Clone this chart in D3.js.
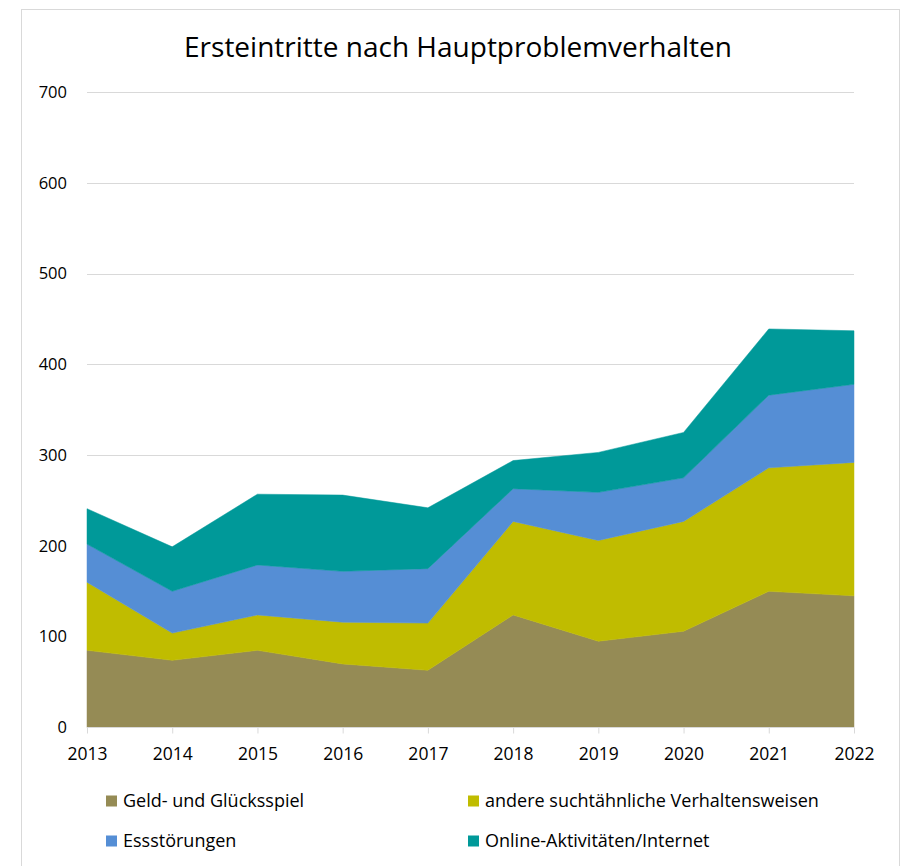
<!DOCTYPE html>
<html>
<head>
<meta charset="utf-8">
<script src="https://cdn.jsdelivr.net/npm/d3@7"></script>
<style>
  body { margin: 0; background: #fff; }
  text { font-family: "Open Sans", "Liberation Sans", sans-serif; fill: #000; }
</style>
</head>
<body>
<svg id="chart" width="905" height="866"></svg>
<script>
const years = [2013, 2014, 2015, 2016, 2017, 2018, 2019, 2020, 2021, 2022];
const seriesNames = ['Geld- und Glücksspiel', 'andere suchtähnliche Verhaltensweisen', 'Essstörungen', 'Online-Aktivitäten/Internet'];
const geld = [85, 74, 85, 70, 63, 124, 95, 106, 150, 145];
const andere = [75, 30, 39, 46, 52, 103, 111, 121, 136, 147];
const ess = [42, 46, 55, 56, 60, 36, 53, 48, 80, 86];
const online = [39, 49, 78, 84, 67, 31, 44, 50, 73, 59];
const yTicks = [0, 100, 200, 300, 400, 500, 600, 700];
const colours = ['#958B55', '#C0BC00', '#558ED5', '#009999'];

const keys = ['geld', 'andere', 'ess', 'online'];
const table = years.map((y, i) => ({ year: y, geld: geld[i], andere: andere[i], ess: ess[i], online: online[i] }));

const svg = d3.select('#chart');

// chart frame
svg.append('rect')
  .attr('x', 21.5).attr('y', 9.5)
  .attr('width', 878).attr('height', 870)
  .attr('fill', 'none').attr('stroke', '#d9d9d9');

const x = d3.scaleLinear().domain([2013, 2022]).range([87, 854]);
const y = d3.scaleLinear().domain([0, 700]).range([727.5, 92]);

// grid
svg.append('g').selectAll('line')
  .data(yTicks.filter(t => t > 0))
  .join('line')
  .attr('x1', 87).attr('x2', 854)
  .attr('y1', d => Math.round(y(d)) + 0.5).attr('y2', d => Math.round(y(d)) + 0.5)
  .attr('stroke', '#d9d9d9').attr('stroke-width', 1);

const stack = d3.stack().keys(keys);
const layers = stack(table);

const area = d3.area()
  .x(d => x(d.data.year))
  .y0(d => y(d[0]))
  .y1(d => y(d[1]));

svg.append('g').selectAll('path')
  .data(layers)
  .join('path')
  .attr('d', area)
  .attr('fill', (d, i) => colours[i])
  .attr('stroke', (d, i) => colours[i])
  .attr('stroke-width', 0.5);

// y axis labels
const yAxis = d3.axisLeft(y).tickValues(yTicks).tickSize(0).tickPadding(0);
svg.append('g')
  .attr('transform', 'translate(67,0)')
  .call(yAxis)
  .call(g => g.select('.domain').remove())
  .call(g => g.selectAll('text').attr('font-size', 16.5).attr('font-family', '"Open Sans", sans-serif').attr('fill', '#000'));

// x axis
const xAxis = d3.axisBottom(x).tickValues(years).tickFormat(d3.format('d')).tickSize(6).tickPadding(14);
svg.append('g')
  .attr('transform', 'translate(0,727.5)')
  .call(xAxis)
  .call(g => g.select('.domain').attr('stroke', '#d9d9d9').attr('d', 'M87,0H854'))
  .call(g => g.selectAll('.tick line').attr('stroke', '#d9d9d9'))
  .call(g => g.selectAll('text').attr('font-size', 17.5).attr('font-family', '"Open Sans", sans-serif').attr('fill', '#000'));

// title
svg.append('text')
  .attr('x', 458).attr('y', 57)
  .attr('text-anchor', 'middle')
  .attr('font-size', 28)
  .text('Ersteintritte nach Hauptproblemverhalten');

// legend
const legendPos = [[106, 801], [468, 801], [106, 841], [468, 841]];
const legend = svg.append('g').selectAll('g')
  .data(seriesNames)
  .join('g')
  .attr('transform', (d, i) => `translate(${legendPos[i][0]},${legendPos[i][1]})`);
legend.append('rect')
  .attr('x', 0).attr('y', -5.5)
  .attr('width', 11).attr('height', 11)
  .attr('fill', (d, i) => colours[i]);
legend.append('text')
  .attr('x', 17).attr('y', 6)
  .attr('font-size', 18)
  .text(d => d);
</script>
</body>
</html>
